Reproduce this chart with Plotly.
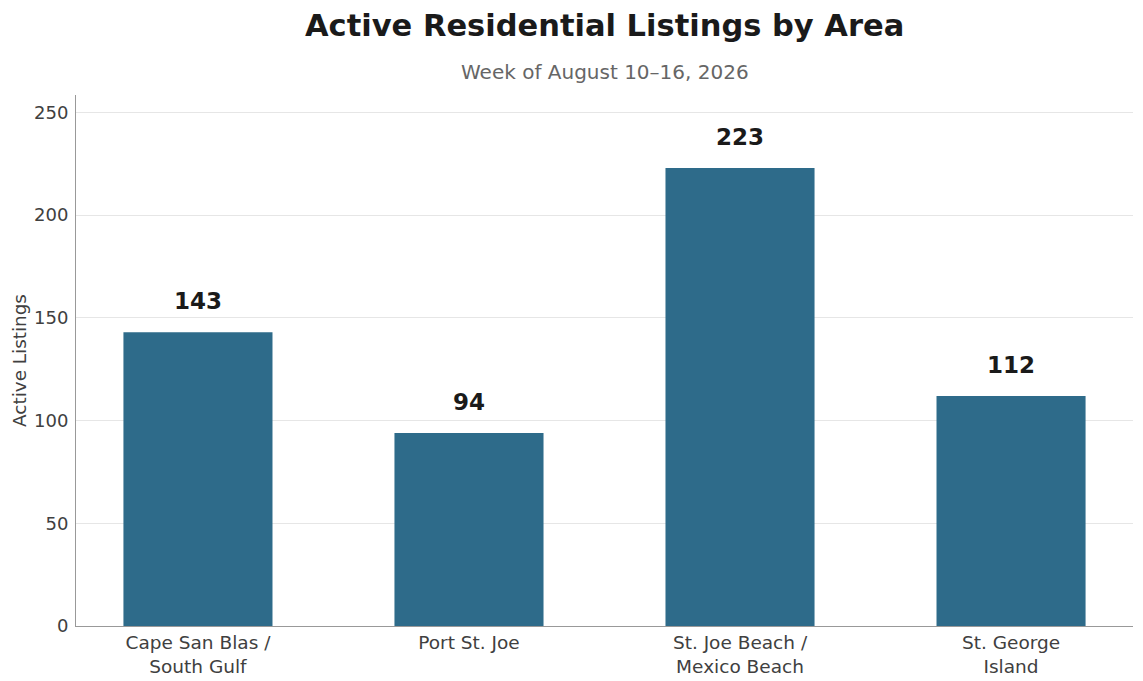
import plotly.graph_objects as go

areas = ["Cape San Blas /<br>South Gulf", "Port St. Joe",
         "St. Joe Beach /<br>Mexico Beach", "St. George<br>Island"]
listings = [143, 94, 223, 112]

font_family = "DejaVu Sans"

fig = go.Figure()
fig.add_trace(go.Bar(
    x=areas,
    y=listings,
    width=0.55,
    marker=dict(color="#2e6b8a", line=dict(width=0)),
    hoverinfo="x+y",
))

# value labels above each bar
for a, v in zip(areas, listings):
    fig.add_annotation(
        x=a, y=v, text=f"<b>{v}</b>", showarrow=False,
        yanchor="bottom", yshift=16,
        font=dict(family=font_family, size=23, color="#1a1a1a"),
    )

# title + subtitle, placed relative to the top of the plot area
fig.add_annotation(
    xref="paper", yref="paper", x=0.5, y=1, yshift=95 - 25,
    text="<b>Active Residential Listings by Area</b>", showarrow=False,
    xanchor="center", yanchor="middle",
    font=dict(family=font_family, size=30.5, color="#1a1a1a"),
)
fig.add_annotation(
    xref="paper", yref="paper", x=0.5, y=1, yshift=95 - 72,
    text="Week of August 10–16, 2026", showarrow=False,
    xanchor="center", yanchor="middle",
    font=dict(family=font_family, size=20, color="#666666"),
)

fig.update_layout(
    width=1143,
    height=681,
    margin=dict(l=76, r=10, t=95, b=55, autoexpand=False),
    paper_bgcolor="white",
    plot_bgcolor="white",
    font=dict(family=font_family, size=18, color="#404040"),
    showlegend=False,
)

fig.update_xaxes(
    range=[-0.45, 3.45],
    showline=True, linecolor="#999999", linewidth=1,
    ticks="", showgrid=False, automargin=False,
    tickfont=dict(size=18.5, color="#404040"),
)
fig.update_yaxes(
    range=[0, 258.5],
    dtick=50,
    showline=True, linecolor="#999999", linewidth=1,
    showgrid=True, gridcolor="#e6e6e6", gridwidth=1,
    zeroline=False, automargin=False,
    ticks="", ticklabelstandoff=3,
    tickfont=dict(size=18, color="#404040"),
    title=dict(text="Active Listings", font=dict(size=18.4, color="#404040"), standoff=2),
)

# drop the default 8px body margin so the figure fills the window
fig.write_html("out.html", config={"displayModeBar": False},
               post_script="document.body.style.margin='0';")
